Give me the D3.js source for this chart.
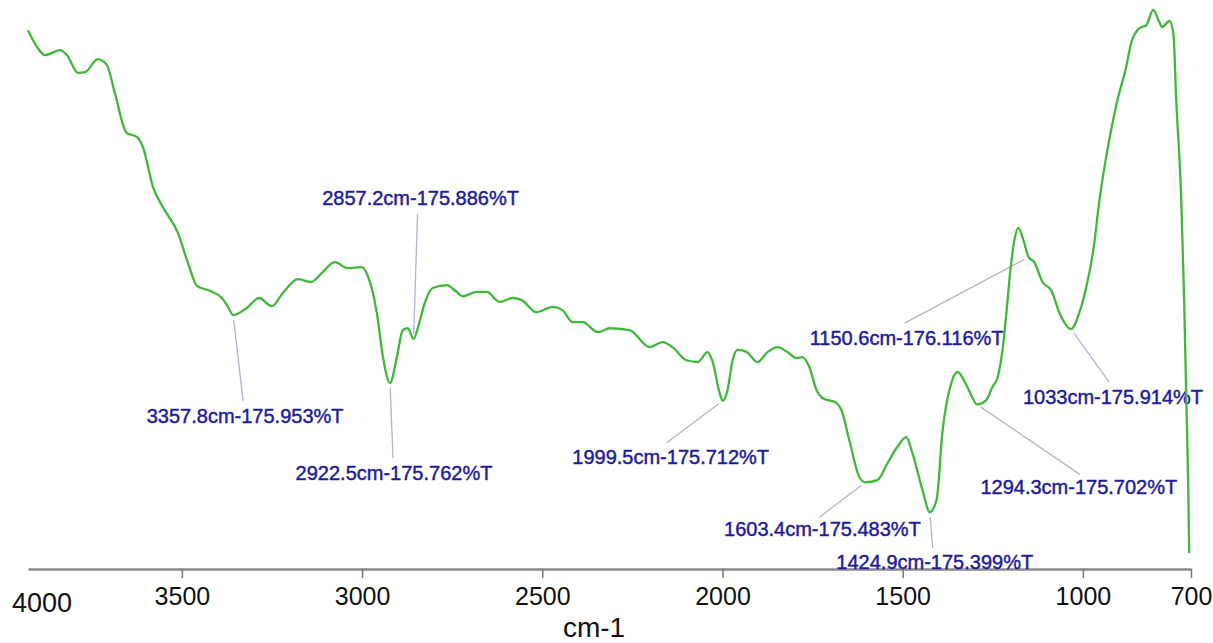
<!DOCTYPE html>
<html>
<head>
<meta charset="utf-8">
<script src="https://cdn.jsdelivr.net/npm/d3@7"></script>
<style>
  html, body { margin: 0; padding: 0; background: #fff; }
  svg { display: block; }
</style>
</head>
<body>
<div id="ftir_chart"></div>
<script>
// spectrum (cm-1, %T)
var wavenumber = [3927, 3902, 3880, 3838, 3819, 3788, 3769, 3733, 3708, 3686,
    3653, 3625, 3608, 3580, 3553, 3511, 3483, 3458, 3422, 3389,
    3372, 3357.8, 3320, 3286, 3250, 3220, 3178, 3142, 3112, 3076,
    3040, 3001, 2984, 2959, 2943, 2922.5, 2904, 2887, 2873, 2857.2,
    2843, 2826, 2804, 2765, 2743, 2721, 2682, 2654, 2618, 2582,
    2557, 2516, 2471, 2444, 2416, 2388, 2346, 2313, 2258, 2202,
    2166, 2139, 2100, 2069, 2041, 2028, 2008, 1999.5, 1986, 1972,
    1958, 1933, 1903, 1875, 1847, 1820, 1795, 1778, 1759, 1739,
    1723, 1684, 1670, 1648, 1620, 1603.4, 1570, 1542, 1515, 1490,
    1473, 1445, 1424.9, 1406, 1390, 1365, 1348, 1323, 1307, 1294.3,
    1268, 1251, 1237, 1223, 1212, 1201, 1190, 1179, 1165, 1150.6,
    1135, 1112, 1087, 1065, 1033, 1010, 988, 971, 954, 927,
    904, 880, 866, 843, 824, 805, 788, 780, 760, 749,
    741, 727, 719, 713, 708, 705];

var transmittance = [176.754, 176.707, 176.684, 176.698, 176.684, 176.634, 176.636, 176.673, 176.656, 176.577,
    176.465, 176.454, 176.425, 176.313, 176.257, 176.184, 176.099, 176.035, 176.021, 176.001,
    175.976, 175.953, 175.973, 176.001, 175.978, 176.015, 176.054, 176.046, 176.071, 176.102,
    176.085, 176.088, 176.063, 175.959, 175.841, 175.762, 175.832, 175.911, 175.916, 175.886,
    175.925, 175.987, 176.029, 176.037, 176.023, 176.006, 176.018, 176.018, 175.990, 176.001,
    175.995, 175.961, 175.976, 175.967, 175.933, 175.933, 175.905, 175.916, 175.911, 175.863,
    175.877, 175.863, 175.826, 175.821, 175.849, 175.824, 175.734, 175.712, 175.742, 175.826,
    175.855, 175.849, 175.821, 175.849, 175.863, 175.849, 175.832, 175.835, 175.807, 175.742,
    175.720, 175.706, 175.686, 175.601, 175.497, 175.483, 175.489, 175.537, 175.582, 175.610,
    175.565, 175.461, 175.399, 175.433, 175.621, 175.762, 175.793, 175.756, 175.722, 175.702,
    175.714, 175.751, 175.776, 175.855, 175.961, 176.080, 176.164, 176.198, 176.164, 176.116,
    176.102, 176.046, 176.021, 175.959, 175.914, 175.959, 176.043, 176.136, 176.276, 176.445,
    176.558, 176.650, 176.718, 176.760, 176.768, 176.811, 176.777, 176.763, 176.780, 176.746,
    176.558, 176.276, 175.995, 175.714, 175.489, 175.284];

// marked peaks
var peakWn = [3357.8, 2922.5, 2857.2, 1999.5, 1603.4, 1424.9, 1294.3, 1150.6, 1033];
var peakT = [175.953, 175.762, 175.886, 175.712, 175.483, 175.399, 175.702, 176.116, 175.914];

// axis ticks
var tickValues = [3500, 3000, 2500, 2000, 1500, 1000, 700];
var firstTickLabel = "4000";
var xTitle = "cm-1";

// where each peak label sits, relative to its peak (label centre/baseline, leader end)
var labelOffsets = [
    { tx: 12, ty: 108, lx: 10, ly: 86 },
    { tx: 4, ty: 97, lx: 3, ly: 75 },
    { tx: 7, ty: -134, lx: 4, ly: -125 },
    { tx: -52, ty: 63, lx: -56, ly: 42 },
    { tx: -43, ty: 54, lx: -46, ly: 35 },
    { tx: 5, ty: 57, lx: 3, ly: 36 },
    { tx: 102, ty: 90, lx: 103, ly: 70 },
    { tx: -122, ty: 88, lx: -124, ly: 66 },
    { tx: 42, ty: 75, lx: 38, ly: 53 }
];

var width = 1213, height = 643;
var axisY = 569;

var svg = d3.select("#ftir_chart")
    .append("svg")
    .attr("width", width)
    .attr("height", height);

var x = d3.scaleLinear().domain([3927, 700]).range([28, 1191]);
var y = d3.scaleLinear().domain([175.239, 176.839]).range([axisY, 0]);

var spectrum = wavenumber.map(function (w, i) {
    return { wn: w, t: transmittance[i] };
});

// x axis
var xAxis = d3.axisBottom(x)
    .tickValues(tickValues)
    .tickFormat(d3.format("d"))
    .tickSize(9)
    .tickSizeOuter(0)
    .tickPadding(9);

var gx = svg.append("g")
    .attr("transform", "translate(0," + axisY + ")")
    .call(xAxis);

gx.select(".domain")
    .attr("stroke", "#8a8a8a")
    .attr("stroke-width", 2.5);
gx.selectAll(".tick line")
    .attr("stroke", "#777")
    .attr("stroke-width", 1.5);
gx.selectAll(".tick text")
    .attr("fill", "#111")
    .attr("font-family", "Liberation Sans, Arial, sans-serif")
    .attr("font-size", 25);

svg.append("text")
    .attr("x", x.range()[0] + 14)
    .attr("y", 612)
    .attr("text-anchor", "middle")
    .attr("fill", "#111")
    .attr("font-family", "Liberation Sans, Arial, sans-serif")
    .attr("font-size", 27)
    .text(firstTickLabel);

svg.append("text")
    .attr("x", 594)
    .attr("y", 637)
    .attr("text-anchor", "middle")
    .attr("fill", "#111")
    .attr("font-family", "Liberation Sans, Arial, sans-serif")
    .attr("font-size", 28)
    .text(xTitle);

// leader lines and labels
var peaks = peakWn.map(function (w, i) {
    return { wn: w, t: peakT[i], off: labelOffsets[i] };
});

var ann = svg.selectAll(".peak")
    .data(peaks)
    .enter()
    .append("g")
    .attr("class", "peak");

ann.append("line")
    .attr("x1", function (d) {
        var dx = d.off.lx, dy = d.off.ly, len = Math.sqrt(dx * dx + dy * dy);
        return x(d.wn) + dx / len * 5;
    })
    .attr("y1", function (d) {
        var dx = d.off.lx, dy = d.off.ly, len = Math.sqrt(dx * dx + dy * dy);
        return y(d.t) + dy / len * 5;
    })
    .attr("x2", function (d) { return x(d.wn) + d.off.lx; })
    .attr("y2", function (d) { return y(d.t) + d.off.ly; })
    .attr("stroke", "#b3b3cc")
    .attr("stroke-width", 1.3);

// spectrum line
var line = d3.line()
    .x(function (d) { return x(d.wn); })
    .y(function (d) { return y(d.t); })
    .curve(d3.curveMonotoneX);

svg.append("path")
    .datum(spectrum)
    .attr("d", line)
    .attr("fill", "none")
    .attr("stroke", "#3fb83a")
    .attr("stroke-width", 2.3)
    .attr("stroke-linejoin", "round");

ann.append("text")
    .attr("x", function (d) { return x(d.wn) + d.off.tx; })
    .attr("y", function (d) { return y(d.t) + d.off.ty; })
    .attr("text-anchor", "middle")
    .attr("fill", "#1c1c9e")
    .attr("stroke", "#1c1c9e")
    .attr("stroke-width", 0.45)
    .attr("font-family", "Liberation Sans, Arial, sans-serif")
    .attr("font-size", 20)
    .text(function (d) {
        return d.wn + "cm-" + d.t.toFixed(3) + "%T";
    });
</script>
</body>
</html>
